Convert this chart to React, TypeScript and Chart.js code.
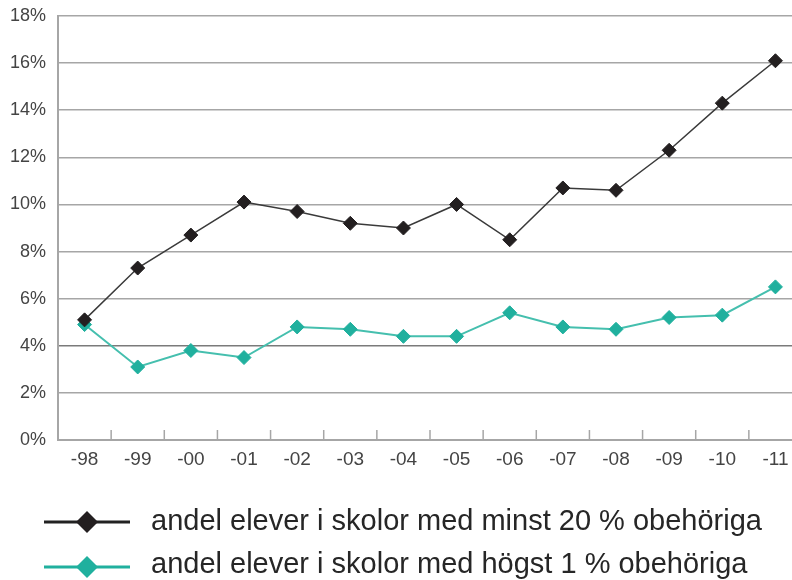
import React, { useEffect, useRef } from "react";
import { Chart, registerables } from "chart.js";

Chart.register(...registerables);

const categories = ["-98", "-99", "-00", "-01", "-02", "-03", "-04", "-05", "-06", "-07", "-08", "-09", "-10", "-11"];
const minst20 = [5.1, 7.3, 8.7, 10.1, 9.7, 9.2, 9.0, 10.0, 8.5, 10.7, 10.6, 12.3, 14.3, 16.1];
const hogst1 = [4.9, 3.1, 3.8, 3.5, 4.8, 4.7, 4.4, 4.4, 5.4, 4.8, 4.7, 5.2, 5.3, 6.5];
const seriesLabels = [
  "andel elever i skolor med minst 20 % obehöriga",
  "andel elever i skolor med högst 1 % obehöriga",
];
const yMin = 0;
const yMax = 18;
const yStep = 2;

const BLACK = "#231f20";
const BLACK_LINE = "#3a3a3a";
const TEAL = "#20b09e";
const TEAL_LINE = "#45bfae";
const GRID = "#a6a6a6";
const FONT = "'Liberation Sans', Arial, sans-serif";

const innerTicks = {
  id: "innerTicks",
  afterDatasetsDraw(chart: any) {
    const x = chart.scales.x;
    const area = chart.chartArea;
    const ctx = chart.ctx;
    ctx.save();
    ctx.strokeStyle = GRID;
    ctx.lineWidth = 1.5;
    for (let i = 1; i < categories.length; i++) {
      const px = (x.getPixelForValue(i - 1) + x.getPixelForValue(i)) / 2;
      ctx.beginPath();
      ctx.moveTo(px, area.bottom);
      ctx.lineTo(px, area.bottom - 10);
      ctx.stroke();
    }
    ctx.restore();
  },
};

const legendPlugin = {
  id: "customLegend",
  afterDraw(chart: any) {
    const ctx = chart.ctx;
    const rows = [
      { y: 522, base: 530, line: "#222222", mark: BLACK, text: seriesLabels[0] },
      { y: 567, base: 573, line: TEAL, mark: TEAL, text: seriesLabels[1] },
    ];
    ctx.save();
    rows.forEach((r) => {
      ctx.strokeStyle = r.line;
      ctx.lineWidth = 3;
      ctx.beginPath();
      ctx.moveTo(44, r.y);
      ctx.lineTo(130, r.y);
      ctx.stroke();
      ctx.fillStyle = r.mark;
      ctx.beginPath();
      ctx.moveTo(87, r.y - 11);
      ctx.lineTo(98, r.y);
      ctx.lineTo(87, r.y + 11);
      ctx.lineTo(76, r.y);
      ctx.closePath();
      ctx.fill();
      ctx.fillStyle = "#262626";
      ctx.font = `29px ${FONT}`;
      ctx.textBaseline = "alphabetic";
      ctx.textAlign = "left";
      ctx.fillText(r.text, 151, r.base);
    });
    ctx.restore();
  },
};

export default function App() {
  const ref = useRef<HTMLCanvasElement | null>(null);
  useEffect(() => {
    if (!ref.current) return;
    const chart = new Chart(ref.current, {
      type: "line",
      data: {
        labels: categories,
        datasets: [
          {
            label: seriesLabels[0],
            data: minst20,
            borderColor: BLACK_LINE,
            borderWidth: 1.5,
            pointStyle: "rectRot",
            pointRadius: 7,
            pointBackgroundColor: BLACK,
            pointBorderColor: BLACK,
            pointBorderWidth: 1,
            tension: 0,
          },
          {
            label: seriesLabels[1],
            data: hogst1,
            borderColor: TEAL_LINE,
            borderWidth: 2,
            pointStyle: "rectRot",
            pointRadius: 7,
            pointBackgroundColor: TEAL,
            pointBorderColor: TEAL,
            pointBorderWidth: 1,
            tension: 0,
          },
        ],
      },
      options: {
        animation: false,
        responsive: false,
        maintainAspectRatio: false,
        layout: { padding: { top: 16, right: 0, bottom: 0, left: 0 } },
        plugins: {
          legend: { display: false },
          tooltip: { enabled: false },
        },
        scales: {
          x: {
            offset: true,
            grid: { display: false, drawTicks: false },
            border: { display: true, color: GRID, width: 2 },
            ticks: {
              padding: 8,
              color: "#444",
              font: { family: FONT, size: 19 },
              maxRotation: 0,
              autoSkip: false,
            },
            afterFit(scale: any) {
              scale.height = 140;
            },
          },
          y: {
            min: yMin,
            max: yMax,
            grid: {
              drawTicks: false,
              lineWidth: 1.5,
              color: (c: any) => (c.tick && c.tick.value === 4 ? "#7a7a7a" : GRID),
            },
            border: { display: true, color: GRID, width: 2 },
            ticks: {
              stepSize: yStep,
              padding: 12,
              color: "#444",
              font: { family: FONT, size: 18 },
              callback: (v: any) => `${v}%`,
            },
            afterFit(scale: any) {
              scale.width = 58;
              scale.paddingTop = 0;
              scale.paddingBottom = 0;
            },
          },
        },
      },
      plugins: [innerTicks, legendPlugin],
    });
    return () => chart.destroy();
  }, []);
  return (
    <div style={{ position: "absolute", left: 0, top: 0, width: 792, height: 580, overflow: "hidden", background: "#fff" }}>
      <canvas ref={ref} width={810} height={580} style={{ display: "block" }} />
    </div>
  );
}
